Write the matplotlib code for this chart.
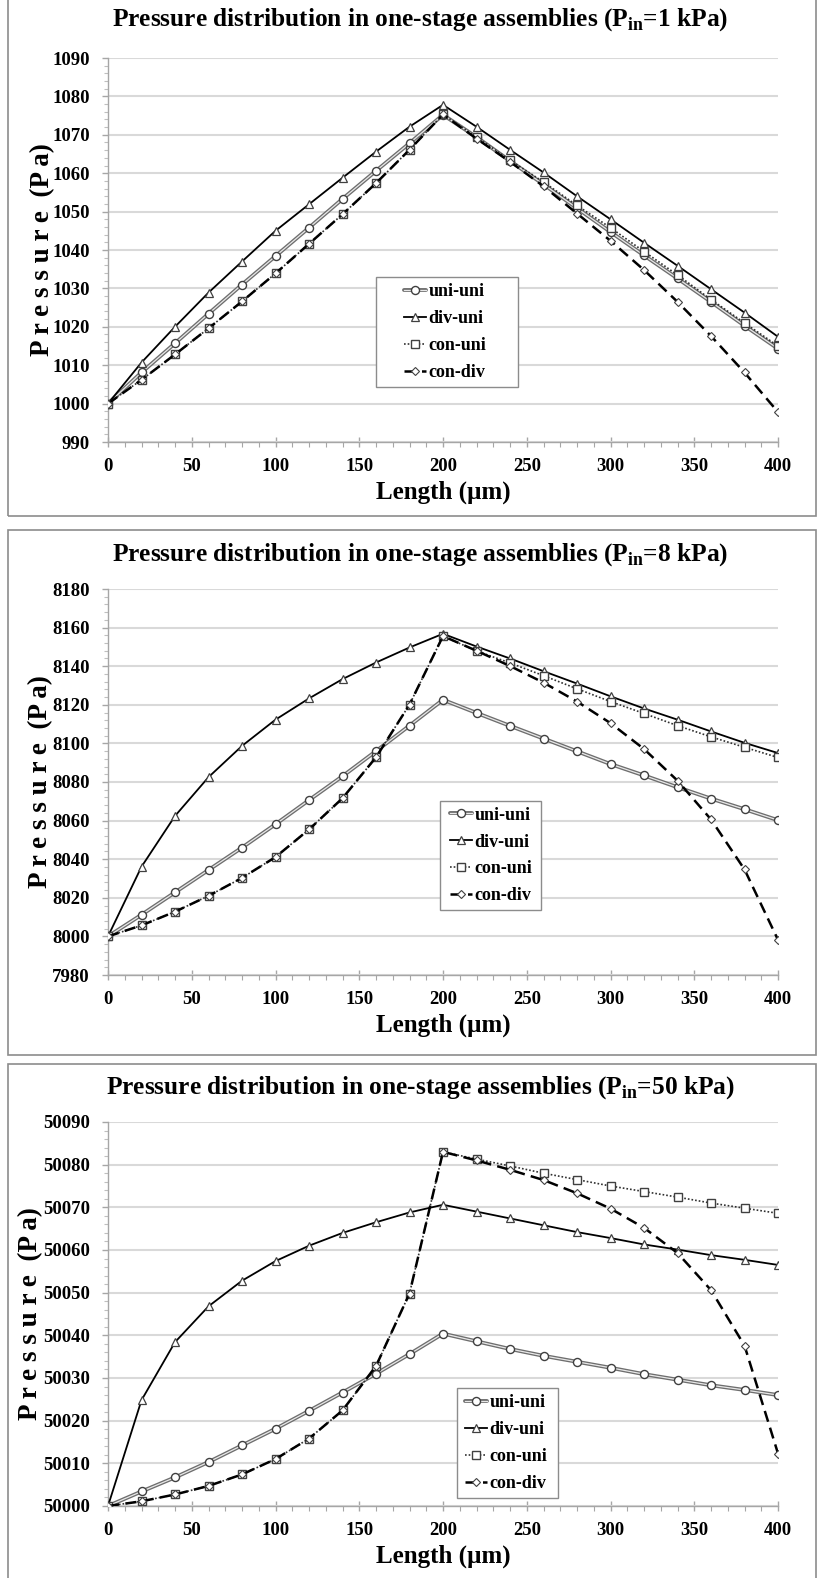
import matplotlib
matplotlib.use('Agg')
import matplotlib.pyplot as plt
import matplotlib.ticker as ticker
from matplotlib.patches import Rectangle
import numpy as np

# x positions along the assembly (um)
length = np.arange(0, 401, 20)

# P_in = 1 kPa
uni_uni_1 = [1000, 1008.1, 1015.7, 1023.4, 1031.0, 1038.4, 1045.8, 1053.3, 1060.6, 1067.8, 1075.2,
             1069.4, 1063.2, 1057.1, 1050.9, 1044.7, 1038.6, 1032.6, 1026.5, 1020.3, 1014.3]
div_uni_1 = [1000, 1010.7, 1020.0, 1028.9, 1037.0, 1045.0, 1051.9, 1058.8, 1065.6, 1072.1, 1077.8,
             1072.1, 1066.1, 1060.2, 1054.0, 1048.0, 1041.9, 1035.9, 1029.8, 1023.7, 1017.4]
con_uni_1 = [1000, 1006.2, 1012.8, 1019.6, 1026.6, 1033.9, 1041.6, 1049.3, 1057.4, 1066.1, 1075.3,
             1069.4, 1063.4, 1057.7, 1051.6, 1045.8, 1039.6, 1033.5, 1027.1, 1021.0, 1015.0]
con_div_1 = [1000, 1006.2, 1012.8, 1019.6, 1026.6, 1033.9, 1041.6, 1049.3, 1057.4, 1066.1, 1075.3,
             1069.0, 1063.0, 1056.6, 1049.5, 1042.4, 1034.8, 1026.5, 1017.6, 1008.1, 997.8]

# P_in = 8 kPa
uni_uni_2 = [8000, 8011.2, 8022.8, 8034.4, 8046.0, 8058.1, 8070.6, 8083.0, 8096.0, 8109.2, 8122.6,
             8115.8, 8109.1, 8102.5, 8095.9, 8089.3, 8083.4, 8077.3, 8071.4, 8065.9, 8060.2]
div_uni_2 = [8000, 8036.1, 8062.4, 8082.5, 8098.7, 8112.3, 8123.3, 8133.3, 8141.9, 8149.7, 8156.8,
             8150.2, 8144.0, 8137.4, 8131.0, 8124.4, 8118.1, 8112.3, 8106.2, 8100.3, 8095.0]
con_uni_2 = [8000, 8005.7, 8012.8, 8021.0, 8030.3, 8041.1, 8055.4, 8071.6, 8092.8, 8120.1, 8155.6,
             8147.9, 8141.7, 8135.1, 8128.3, 8121.7, 8115.5, 8109.2, 8103.4, 8098.0, 8092.7]
con_div_2 = [8000, 8005.7, 8012.8, 8021.0, 8030.3, 8041.1, 8055.4, 8071.6, 8092.8, 8120.1, 8155.6,
             8148.0, 8140.1, 8131.5, 8121.7, 8110.5, 8097.1, 8080.7, 8060.6, 8034.7, 7998.2]

# P_in = 50 kPa
uni_uni_3 = [50000, 50003.4, 50006.7, 50010.3, 50014.2, 50018.1, 50022.3, 50026.6, 50031.0, 50035.6, 50040.4,
             50038.6, 50036.8, 50035.2, 50033.8, 50032.4, 50030.9, 50029.6, 50028.3, 50027.2, 50026.0]
div_uni_3 = [50000, 50024.8, 50038.4, 50046.8, 50052.8, 50057.4, 50061.0, 50064.0, 50066.5, 50068.8, 50070.6,
             50069.0, 50067.4, 50065.8, 50064.2, 50062.8, 50061.3, 50060.1, 50058.8, 50057.7, 50056.5]
con_uni_3 = [50000, 50001.1, 50002.7, 50004.7, 50007.4, 50011.0, 50015.8, 50022.4, 50032.8, 50049.8, 50083.0,
             50081.3, 50079.7, 50078.0, 50076.5, 50075.0, 50073.7, 50072.4, 50071.0, 50069.8, 50068.6]
con_div_3 = [50000, 50001.1, 50002.7, 50004.7, 50007.4, 50011.0, 50015.8, 50022.4, 50032.8, 50049.8, 50083.0,
             50081.0, 50078.8, 50076.4, 50073.3, 50069.7, 50065.2, 50059.3, 50050.6, 50037.6, 50012.3]

series_names = ["uni-uni", "div-uni", "con-uni", "con-div"]
pressures_in = ["1", "8", "50"]

plt.rcParams['font.family'] = ['Liberation Serif', 'DejaVu Serif']
plt.rcParams['font.weight'] = 'bold'
plt.rcParams['mathtext.fontset'] = 'custom'
plt.rcParams['mathtext.rm'] = 'Liberation Serif:bold'
plt.rcParams['mathtext.bf'] = 'Liberation Serif:bold'

W, H = 818, 1578
fig = plt.figure(figsize=(W / 100, H / 100), dpi=100)


def px_box(x0, y0, x1, y1):
    # pixel box (from top-left) -> figure fraction [left, bottom, width, height]
    return [x0 / W, 1 - y1 / H, (x1 - x0) / W, (y1 - y0) / H]


def draw_panel(ax, uni, div, con_u, con_d, ylim, ystep, ylab_x, leg_box, handle_x):
    edge = '#404040'
    # uni-uni drawn as a gray double line
    l_out, = ax.plot(length, uni, color='#6e6e6e', lw=2.8, zorder=3, solid_capstyle='round')
    l_in, = ax.plot(length, uni, color='#e8e8e8', lw=0.9, marker='o', ms=5.8,
                    mfc='white', mec=edge, mew=1.0, zorder=3)
    l_div, = ax.plot(length, div, color='black', lw=1.3, marker='^', ms=5.8,
                     mfc='white', mec=edge, mew=0.9, zorder=4)
    l_cu, = ax.plot(length, con_u, color='#303030', lw=1.2, ls=(0, (1, 1.2)), marker='s', ms=5.2,
                    mfc='white', mec=edge, mew=1.0, zorder=4)
    l_cd, = ax.plot(length, con_d, color='black', lw=1.8, ls=(0, (4.5, 2.5)), marker='D', ms=3.9,
                    mfc='white', mec=edge, mew=0.8, zorder=5)

    ax.set_xlim(0, 400)
    ax.set_ylim(*ylim)
    ax.xaxis.set_major_locator(ticker.MultipleLocator(50))
    ax.xaxis.set_minor_locator(ticker.MultipleLocator(10))
    ax.yaxis.set_major_locator(ticker.MultipleLocator(ystep))
    ax.yaxis.set_minor_locator(ticker.MultipleLocator(ystep / 5))
    ax.yaxis.set_major_formatter(ticker.FormatStrFormatter('%d'))

    ax.grid(axis='y', which='major', color='#d9d9d9', lw=1.5, zorder=0)
    ax.set_axisbelow(True)
    for s in ['top', 'right']:
        ax.spines[s].set_visible(False)
    for s in ['left', 'bottom']:
        ax.spines[s].set_color('#a6a6a6')
        ax.spines[s].set_linewidth(1.0)

    ax.tick_params(axis='x', which='major', direction='inout', length=7, width=1,
                   color='#a6a6a6', labelsize=13.5, pad=8)
    ax.tick_params(axis='x', which='minor', direction='out', length=3.5, width=0.8, color='#a6a6a6')
    ax.tick_params(axis='y', which='major', direction='out', length=4, width=1,
                   color='#a6a6a6', labelsize=13.5, pad=9)
    ax.tick_params(axis='y', which='minor', direction='out', length=3, width=0.8, color='#bfbfbf')
    for lab in ax.get_xticklabels() + ax.get_yticklabels():
        lab.set_fontweight('bold')

    ax.set_xlabel('Length (\u00b5m)', fontsize=18, fontweight='bold')
    ax.xaxis.set_label_coords(0.5, -50 / 384)
    ax.xaxis.label.set_va('center')
    ax.set_ylabel('P r e s s u r e  (P a)', fontsize=19.5, fontweight='bold')
    ax.yaxis.set_label_coords(ylab_x, 0.5)
    ax.yaxis.label.set_va('center')

    # legend box drawn separately so its size matches the original
    bx0, by0, bx1, by1 = leg_box
    pos = ax.get_position()
    fx0 = (bx0 / W - pos.x0) / pos.width
    fx1 = (bx1 / W - pos.x0) / pos.width
    fy1 = ((1 - by0 / H) - pos.y0) / pos.height
    fy0 = ((1 - by1 / H) - pos.y0) / pos.height
    hx = (handle_x / W - pos.x0) / pos.width
    ax.add_patch(Rectangle((fx0, fy0), fx1 - fx0, fy1 - fy0, transform=ax.transAxes,
                           facecolor='white', edgecolor='#8c8c8c', lw=1.0, zorder=8, clip_on=False))
    leg = ax.legend([(l_out, l_in), l_div, l_cu, l_cd], series_names,
                    loc='center left', bbox_to_anchor=(hx, (fy0 + fy1) / 2),
                    frameon=False, fontsize=13, handlelength=1.2, handletextpad=0.15,
                    labelspacing=0.55, borderpad=0, borderaxespad=0)
    leg.set_zorder(9)
    for t in leg.get_texts():
        t.set_fontweight('bold')
    return ax


# panel frames (gray boxes around each chart)
frames = [(8, -2, 816, 516), (8, 530, 816, 1055), (8, 1064, 816, 1582)]
for f in frames:
    fig.patches.append(Rectangle((f[0] / W, 1 - f[3] / H), (f[2] - f[0]) / W, (f[3] - f[1]) / H,
                                 transform=fig.transFigure, fill=False,
                                 edgecolor='#8c8c8c', lw=1.2))

ax1 = fig.add_axes(px_box(108, 58, 778, 442))
ax2 = fig.add_axes(px_box(108, 589, 778, 975))
ax3 = fig.add_axes(px_box(108, 1122, 778, 1506))

draw_panel(ax1, uni_uni_1, div_uni_1, con_uni_1, con_div_1, (990, 1090), 10, -0.098,
           (376, 277, 518, 387), 404)
draw_panel(ax2, uni_uni_2, div_uni_2, con_uni_2, con_div_2, (7980, 8180), 20, -0.101,
           (440, 801, 541, 910), 450)
draw_panel(ax3, uni_uni_3, div_uni_3, con_uni_3, con_div_3, (50000, 50090), 10, -0.115,
           (457, 1388, 558, 1498), 465)

title_y = [20, 555, 1088]
for ty, p in zip(title_y, pressures_in):
    fig.text(420 / W, 1 - ty / H,
             'Pressure distribution in one-stage assemblies (P$_{\\mathrm{in}}$=' + p + ' kPa)',
             ha='center', va='center', fontsize=18.3, fontweight='bold')

plt.savefig('out.png', dpi=100)
